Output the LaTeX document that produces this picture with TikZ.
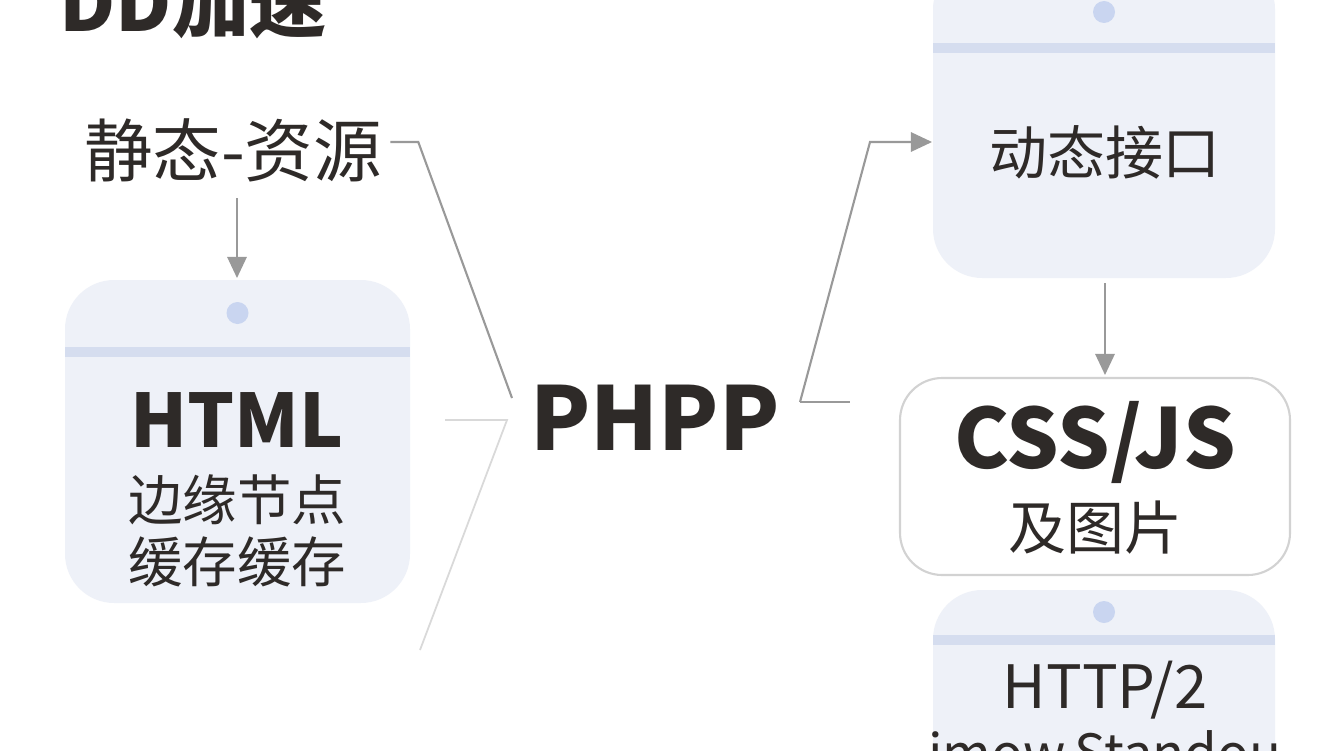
\documentclass[tikz,border=0pt]{standalone}
\usepackage{fontspec}
\setmainfont{Noto Sans CJK SC}
\usetikzlibrary{arrows.meta}
\definecolor{cardbg}{HTML}{EEF1F8}
\definecolor{cardline}{HTML}{D5DDEF}
\definecolor{carddot}{HTML}{C9D5F0}
\definecolor{ink}{HTML}{2E2A28}
\tikzset{
  card/.style={fill=cardbg, rounded corners=28pt},
  wire/.style={gray!80, line width=1.2pt},
  faint/.style={gray!30, line width=1pt},
  tip/.style={-{Triangle[length=12pt,width=11pt]}},
  lbl/.style={text=ink, inner sep=0pt, align=center}
}
\begin{document}
\begin{tikzpicture}[x=0.02cm,y=-0.02cm]
    \useasboundingbox[fill=white] (0,0) rectangle (1344,750);

    % Cards
    \fill[card] (65,280) rectangle (410,603);
    \fill[card] (933,-40) rectangle (1275,278);
    \fill[card] (933,590) rectangle (1275,800);
    \foreach \l/\r/\dy/\ly in {65/410/313/352, 933/1275/12/48, 933/1275/612/640} {
        \fill[carddot] ({(\l+\r)/2},\dy) circle (11);
        \draw[cardline, line width=6pt] (\l,\ly) -- (\r,\ly);
    }
    \draw[gray!35, line width=1.2pt, fill=white, rounded corners=24pt] (900,378) rectangle (1290,575);

    % Labels
    \node[lbl, font=\fontsize{44}{48}\selectfont\bfseries] (title) at (193,2) {DD加速};
    \node[lbl, font=\fontsize{39}{42}\selectfont] (static) at (233,150) {静态-资源};
    \node[lbl, font=\fontsize{42}{46}\selectfont\bfseries] (html) at (237,420) {HTML};
    \node[lbl, font=\fontsize{31}{34}\selectfont] (edge) at (237,500) {边缘节点};
    \node[lbl, font=\fontsize{31}{34}\selectfont] (cache) at (237,562) {缓存缓存};
    \node[lbl, font=\fontsize{50}{54}\selectfont\bfseries] (phpp) at (655,418) {PHPP};
    \node[lbl, font=\fontsize{33}{36}\selectfont] (api) at (1105,152) {动态接口};
    \node[lbl, font=\fontsize{47}{50}\selectfont\bfseries] (cssjs) at (1095,442) {CSS/JS};
    \node[lbl, font=\fontsize{33}{36}\selectfont] (img) at (1095,528) {及图片};
    \node[lbl, font=\fontsize{34}{38}\selectfont] (http) at (1105,690) {HTTP/2};
    \node[lbl, font=\fontsize{30}{34}\selectfont] (std) at (1105,752) {imow\,Standou};

    % Connectors
    \coordinate (sIn) at (512,398);
    \coordinate (pOut) at (800,402);
    \draw[wire] (static.east) ++(8,-8) -- ++(28,0) -- (sIn);
    \draw[faint] (445,420) -- (507,420) -- (420,650);
    \draw[wire, tip] (pOut) -- (870,142) -- (932,142);
    \draw[wire] (pOut) -- (850,402);
    \draw[wire, tip] (237,198) -- (237,278);
    \draw[wire, tip] (1105,283) -- (1105,375);
\end{tikzpicture}
\end{document}
